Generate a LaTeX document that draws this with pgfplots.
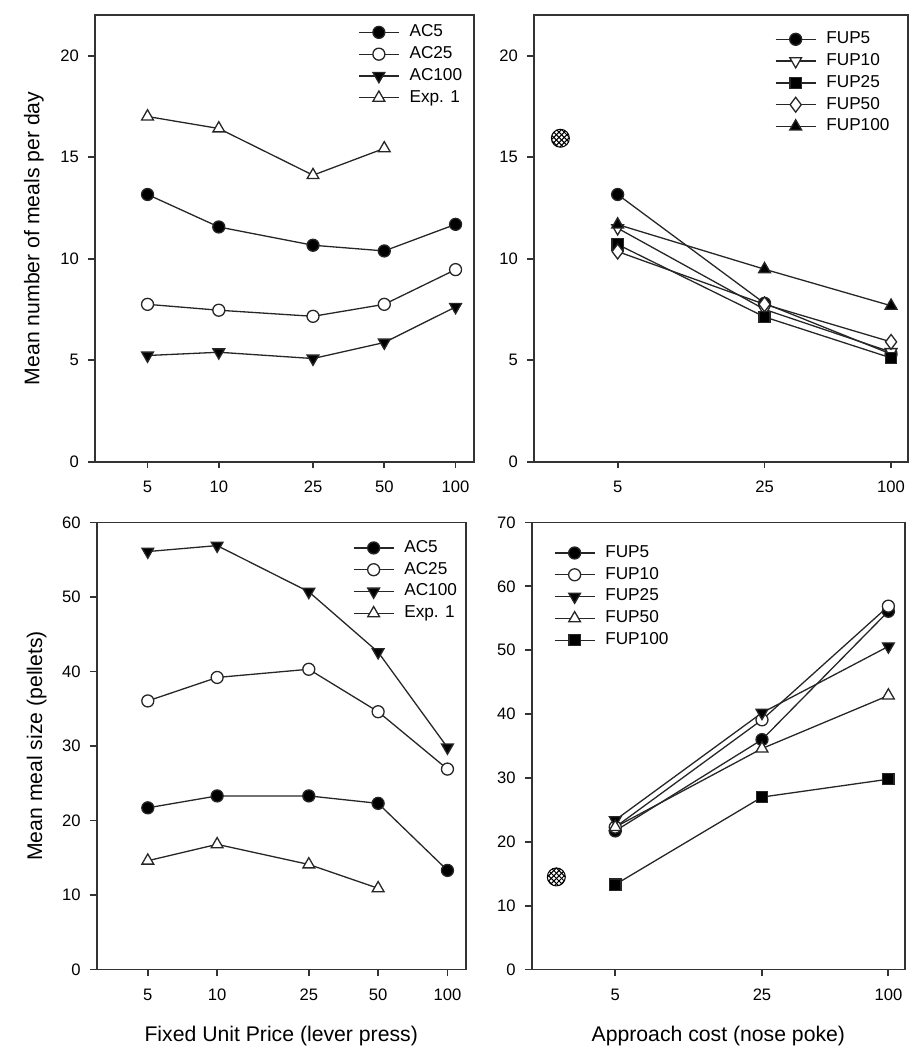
\documentclass[border=0pt]{standalone}
\usepackage{fontspec}
\setmainfont{Liberation Sans}
\usepackage{pgfplots}
\pgfplotsset{compat=1.18}
\usetikzlibrary{patterns}

\pgfdeclarepatternformonly{dxhatch}{\pgfqpoint{-0.5pt}{-0.5pt}}{\pgfqpoint{3.1pt}{3.1pt}}{\pgfqpoint{2.6pt}{2.6pt}}{%
  \pgfsetlinewidth{0.5pt}%
  \pgfpathmoveto{\pgfqpoint{0pt}{0pt}}\pgfpathlineto{\pgfqpoint{2.6pt}{2.6pt}}%
  \pgfpathmoveto{\pgfqpoint{0pt}{2.6pt}}\pgfpathlineto{\pgfqpoint{2.6pt}{0pt}}%
  \pgfusepath{stroke}}
\pgfdeclareplotmark{xhcirc}{%
  \pgfpathcircle{\pgfpointorigin}{\pgfplotmarksize}%
  \pgfsetfillpattern{dxhatch}{black}%
  \pgfusepathqfillstroke}

\pgfplotsset{
  panel/.style={
    scale only axis,
    axis line style={black!80, line width=0.9pt},
    tick style={black!80, line width=0.9pt},
    tick align=outside, major tick length=3.4pt,
    xtick pos=bottom, ytick pos=left,
    xminorticks=false,
    /pgf/number format/assume math mode=true,
    ticklabel style={font=\fontsize{8.3}{10}\selectfont},
    xticklabel style={anchor=base, inner sep=0pt, yshift=-12pt},
    yticklabel style={anchor=east, inner sep=0pt, xshift=-4.45pt},
    label style={font=\fontsize{10.6}{12.7}\selectfont},
    every axis plot/.append style={line width=0.65pt, black!85},
    legend style={draw=none, fill=none, inner sep=0pt, outer sep=0pt,
      font=\fontsize{8.6}{10}\selectfont, row sep=2.9pt,
      nodes={inner sep=0pt, text height=6.2pt, text depth=1.8pt},
      /tikz/every odd column/.append style={column sep=5pt}},
    legend cell align=left,
    legend image code/.code={\draw[mark repeat=2,mark phase=2] plot coordinates {(0pt,0pt)(10pt,0pt)(20pt,0pt)};},
  },
  fc/.style={mark=*, mark size=3pt, mark options={solid, fill=black}},
  oc/.style={mark=*, mark size=3pt, mark options={solid, fill=white}},
  ftd/.style={mark=triangle*, mark size=3.4pt, mark options={solid, fill=black, rotate=180}},
  otd/.style={mark=triangle*, mark size=3.4pt, mark options={solid, fill=white, rotate=180}},
  ftu/.style={mark=triangle*, mark size=3.4pt, mark options={solid, fill=black}},
  otu/.style={mark=triangle*, mark size=3.4pt, mark options={solid, fill=white}},
  fsq/.style={mark=square*, mark size=2.8pt, mark options={solid, fill=black}},
  odi/.style={mark=diamond*, mark size=3.7pt, mark options={solid, fill=white}},
  hc/.style={only marks, mark=xhcirc, mark size=4.5pt, mark options={solid, draw=black, line width=0.5pt}},
}

\begin{document}
\begin{tikzpicture}
\path[use as bounding box] (0,0) rectangle (458.5pt,525pt);

% Top-left
\begin{semilogxaxis}[panel, at={(47.5pt,294.15pt)}, anchor=south west,
  width=189.65pt, height=223.35pt,
  xmin=3, xmax=120, ymin=0, ymax=22, ytick={0,5,10,15,20},
  xtick={5,10,25,50,100}, xticklabels={5,10,25,50,100},
  ylabel={Mean number of meals per day},
  ylabel style={at={(axis description cs:-0.1469,0.5)}, anchor=base},
  legend style={at={(axis description cs:0.694,0.979)}, anchor=north west}]
\addplot[fc] coordinates {(5,13.16)(10,11.56)(25,10.66)(50,10.38)(100,11.69)};
\addplot[oc] coordinates {(5,7.75)(10,7.46)(25,7.16)(50,7.75)(100,9.46)};
\addplot[ftd] coordinates {(5,5.23)(10,5.39)(25,5.08)(50,5.87)(100,7.62)};
\addplot[otu] coordinates {(5,17.0)(10,16.41)(25,14.11)(50,15.43)};
\legend{AC5,AC25,AC100,Exp. 1}
\end{semilogxaxis}

% Top-right
\begin{semilogxaxis}[panel, at={(267pt,294.15pt)}, anchor=south west,
  width=186.85pt, height=223.35pt,
  xmin=2, xmax=120, ymin=0, ymax=22, ytick={0,5,10,15,20},
  xtick={5,25,100}, xticklabels={5,25,100},
  legend style={at={(axis description cs:0.645,0.9635)}, anchor=north west}]
\addplot[fc] coordinates {(5,13.16)(25,7.8)(100,5.3)};
\addplot[otd] coordinates {(5,11.5)(25,7.5)(100,5.4)};
\addplot[fsq] coordinates {(5,10.7)(25,7.13)(100,5.11)};
\addplot[odi] coordinates {(5,10.35)(25,7.75)(100,5.9)};
\addplot[ftu] coordinates {(5,11.68)(25,9.48)(100,7.68)};
\legend{FUP5,FUP10,FUP25,FUP50,FUP100}
\addplot[hc, forget plot] coordinates {(2.67,15.93)};
\end{semilogxaxis}

% Bottom-left
\begin{semilogxaxis}[panel, at={(48.35pt,40.25pt)}, anchor=south west,
  width=184.5pt, height=223.5pt,
  xmin=3, xmax=120, ymin=0, ymax=60, ytick={0,10,20,30,40,50,60},
  xtick={5,10,25,50,100}, xticklabels={5,10,25,50,100},
  ylabel={Mean meal size (pellets)},
  ylabel style={at={(axis description cs:-0.148,0.5)}, anchor=base},
  xlabel={Fixed Unit Price (lever press)},
  xlabel style={at={(axis description cs:0.5,-0.1615)}, anchor=base},
  legend style={at={(axis description cs:0.6946,0.961)}, anchor=north west}]
\addplot[fc] coordinates {(5,21.7)(10,23.3)(25,23.3)(50,22.3)(100,13.3)};
\addplot[oc] coordinates {(5,36.05)(10,39.2)(25,40.3)(50,34.6)(100,26.9)};
\addplot[ftd] coordinates {(5,56.1)(10,56.9)(25,50.7)(50,42.6)(100,29.8)};
\addplot[otu] coordinates {(5,14.6)(10,16.8)(25,14.1)(50,10.9)};
\legend{AC5,AC25,AC100,Exp. 1}
\end{semilogxaxis}

% Bottom-right
\begin{semilogxaxis}[panel, at={(265.85pt,40.25pt)}, anchor=south west,
  width=186.65pt, height=223.5pt,
  xmin=2, xmax=120, ymin=0, ymax=70, ytick={0,10,20,30,40,50,60,70},
  xtick={5,25,100}, xticklabels={5,25,100},
  xlabel={Approach cost (nose poke)},
  xlabel style={at={(axis description cs:0.5,-0.1615)}, anchor=base},
  legend style={at={(axis description cs:0.0597,0.9497)}, anchor=north west}]
\addplot[fc] coordinates {(5,21.7)(25,36.0)(100,56.1)};
\addplot[oc] coordinates {(5,22.3)(25,39.1)(100,56.9)};
\addplot[ftd] coordinates {(5,23.4)(25,40.2)(100,50.6)};
\addplot[otu] coordinates {(5,22.3)(25,34.6)(100,42.9)};
\addplot[fsq] coordinates {(5,13.3)(25,27.0)(100,29.8)};
\legend{FUP5,FUP10,FUP25,FUP50,FUP100}
\addplot[hc, forget plot] coordinates {(2.62,14.5)};
\end{semilogxaxis}
\end{tikzpicture}
\end{document}
